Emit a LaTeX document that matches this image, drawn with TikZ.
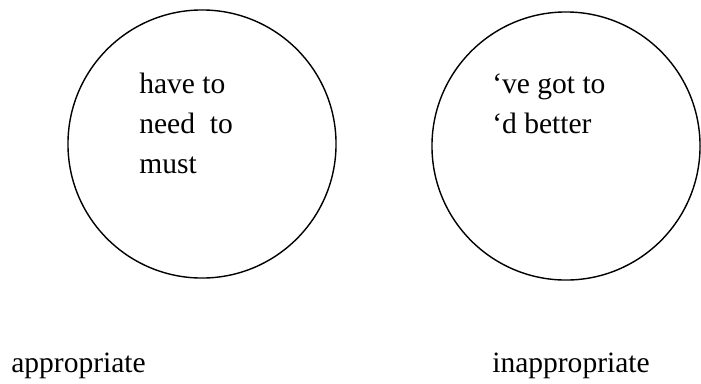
\documentclass[tikz,border=0pt]{standalone}
\usepackage{fontspec}
\setmainfont{Liberation Serif}
\usepackage{tikz}
\usetikzlibrary{positioning}

\tikzset{
  ring/.style={circle,draw=black,line width=1pt,inner sep=0pt,minimum size=6.7cm},
  modal/.style={anchor=base west,inner sep=0pt,font=\fontsize{21}{25}\selectfont},
  tag/.style={anchor=base west,inner sep=0pt,font=\fontsize{21}{25}\selectfont}
}

\begin{document}
\begin{tikzpicture}[x=0.025cm,y=-0.025cm]
        \useasboundingbox (0,0) rectangle (701,383);

        % Left circle
        \node[ring] (leftring) at (202,144) {};
        \node[modal] (haveto) at (139,93) {have to};
        \node[modal] (needto) at (139,133) {need~ to};
        \node[modal] (must) at (139,173) {must};

        % Right circle
        \node[ring] (rightring) at (566,146) {};
        \node[modal] (gotto) at (492,93) {`ve got to};
        \node[modal] (better) at (492,133) {`d better};

        % Labels under the circles
        \node[tag] (approp) at (11,372) {appropriate};
        \node[tag] (inapprop) at (492,372) {inappropriate};
      \end{tikzpicture}
\end{document}
